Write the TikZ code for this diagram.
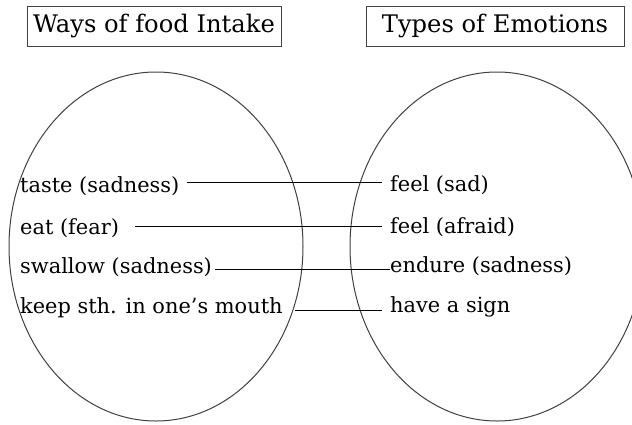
\documentclass[tikz,border=0pt]{standalone}
\usepackage{fontspec}
\setmainfont{DejaVu Serif}
\begin{document}
\begin{tikzpicture}[x=1pt,y=-1pt,
  titlebox/.style={draw=black!75, line width=1pt, inner sep=0pt, minimum height=40pt, font=\fontsize{24.2}{27}\selectfont},
  item/.style={inner sep=0pt, anchor=base west, font=\fontsize{20.9}{24}\selectfont},
  blob/.style={draw=black!75, line width=1pt},
  link/.style={draw=black, line width=0.9pt}]
\useasboundingbox (0,0) rectangle (632,424);
\begin{scope}
\clip (0,0) rectangle (632,424);
\draw[blob] (156,246.5) ellipse [x radius=147, y radius=174.5];
\draw[blob] (497,246.5) ellipse [x radius=147, y radius=174.5];
\end{scope}
\node[titlebox, minimum width=254pt] (t1) at (154,26) {Ways of food Intake};
\node[titlebox, minimum width=258pt] (t2) at (495,26) {Types of Emotions};
\node[item] (l1) at (20,192) {taste (sadness)};
\node[item] (l2) at (20,234) {eat (fear)};
\node[item] (l3) at (20,273) {swallow (sadness)};
\node[item] (l4) at (20,313) {keep sth. in one’s mouth};
\node[item] (r1) at (390,191) {feel (sad)};
\node[item] (r2) at (390,233) {feel (afraid)};
\node[item] (r3) at (390,272) {endure (sadness)};
\node[item] (r4) at (390,312) {have a sign};
\draw[link, shorten <=7pt, shorten >=8pt] ([yshift=10pt]l1.base east) -- ([yshift=9pt]r1.base west);
\draw[link, shorten <=16pt, shorten >=8pt] ([yshift=8pt]l2.base east) -- ([yshift=7pt]r2.base west);
\draw[link, shorten <=3pt, shorten >=0pt] ([yshift=4pt]l3.base east) -- ([yshift=3pt]r3.base west);
\draw[link, shorten <=12pt, shorten >=8pt] ([yshift=3pt]l4.base east) -- ([yshift=2pt]r4.base west);
\end{tikzpicture}
\end{document}
